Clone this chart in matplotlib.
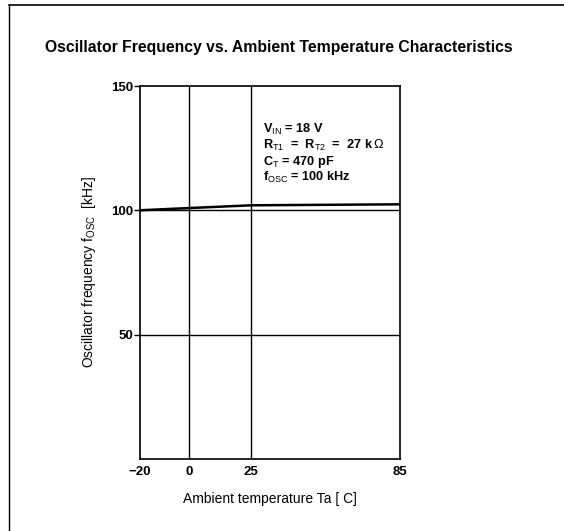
import matplotlib
matplotlib.use('Agg')
import matplotlib.pyplot as plt
from matplotlib.lines import Line2D

plt.rcParams['font.family'] = ['Liberation Sans', 'DejaVu Sans']
plt.rcParams['mathtext.fontset'] = 'custom'
plt.rcParams['mathtext.rm'] = 'Liberation Sans'
plt.rcParams['mathtext.it'] = 'Liberation Sans'
plt.rcParams['mathtext.bf'] = 'Liberation Sans:bold'

# data
temp = [-20, 0, 25, 85]
freq = [100, 100.9, 102.0, 102.4]

x_ticks = [-20, 0, 25, 85]
y_ticks = [50, 100, 150]
grid_x = [0, 25]
grid_y = [50, 100]

conditions = [r'V$_{\rm IN}$ = 18 V',
              r'R$_{\rm T1}$  =  R$_{\rm T2}$  =  27 k$\,\Omega$',
              r'C$_{\rm T}$ = 470 pF',
              r'f$_{\rm OSC}$ = 100 kHz']

fig = plt.figure(figsize=(5.64, 5.31), dpi=100)
ax = fig.add_axes([0.248, 0.136, 0.461, 0.702])

for gx in grid_x:
    ax.axvline(gx, color='black', lw=1.0)
for gy in grid_y:
    ax.axhline(gy, color='black', lw=1.0)
ax.plot(temp, freq, color='black', lw=1.8)

ax.set_xlim(-20, 85)
ax.set_ylim(0, 150)
ax.set_xticks(x_ticks)
ax.set_yticks(y_ticks)
ax.set_xticklabels([('\u2212' + str(-t)) if t < 0 else str(t) for t in x_ticks],
                   fontweight='bold', fontsize=9.5)
ax.set_yticklabels([str(t) for t in y_ticks], fontweight='bold', fontsize=9.5)
ax.tick_params(axis='x', length=0, pad=5)
ax.tick_params(axis='y', length=4, width=1, direction='out', pad=1)
for s in ax.spines.values():
    s.set_linewidth(1.2)

ax.set_xlabel('Ambient temperature Ta [ C]', fontsize=10, labelpad=10)
ax.set_ylabel(r'Oscillator frequency f$_{\rm OSC}$  [kHz]', fontsize=10, labelpad=9)

for i, line in enumerate(conditions):
    ax.text(0.475, 0.888 - i * 0.043, line, transform=ax.transAxes,
            fontsize=9.2, fontweight='bold', va='center_baseline', ha='left')

fig.text(0.495, 0.911, 'Oscillator Frequency vs. Ambient Temperature Characteristics',
         ha='center', va='center', fontsize=11.3, fontweight='bold')

# frame of the scanned page (top and left edges only)
fig.add_artist(Line2D([0.016, 1.0], [0.99, 0.99], transform=fig.transFigure, color='black', lw=1.2))
fig.add_artist(Line2D([0.016, 0.016], [0.0, 0.99], transform=fig.transFigure, color='black', lw=1.0))

fig.savefig('out.png', dpi=100)
